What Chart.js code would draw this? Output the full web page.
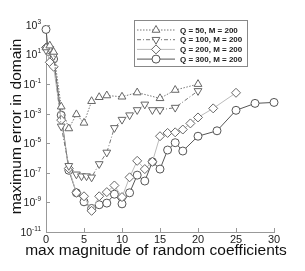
<!DOCTYPE html>
<html><head><meta charset="utf-8">
<script src="https://cdn.jsdelivr.net/npm/chart.js@4.4.1/dist/chart.umd.min.js"></script>
<style>html,body{margin:0;padding:0;background:#fff;}canvas{display:block;}</style>
</head><body>
<canvas id="c" width="305" height="271"></canvas>
<script>
// ---- data ----
const seriesNames = ['Q = 50, M = 200', 'Q = 100, M = 200', 'Q = 200, M = 200', 'Q = 300, M = 200'];

const q50X = [0, 0.5, 1, 2, 3, 4, 5, 6, 7, 8, 10, 12, 15, 17, 20];
const q50Y = [30, 40, 15, 3e-3, 1e-4, 9e-4, 2.4e-4, 7e-3, 1.3e-2, 1.7e-2, 1.4e-2, 2.7e-2, 1.1e-2, 4e-2, 0.1];

const q100X = [0, 0.5, 1, 2, 3, 4, 4.67, 5.33, 6, 7, 8, 9, 10, 11, 12, 13, 14, 15, 17, 20];
const q100Y = [20, 25, 8, 1.4e-4, 3e-7, 8e-8, 6e-8, 6e-8, 5e-8, 4e-7, 2.4e-6, 1.1e-4, 4e-4, 8e-4, 1.8e-3, 4.3e-3, 1.8e-3, 1.8e-3, 2.6e-3, 3.5e-2];

const q200X = [0, 0.5, 1, 2, 3, 4, 5, 6, 7, 8, 9, 10, 11, 12, 13, 14, 15, 16, 17, 18, 19, 20, 22, 25];
const q200Y = [30, 3, 1.5, 3.7e-4, 2e-7, 4.5e-9, 2.6e-9, 2.7e-10, 2.6e-9, 5e-9, 1.4e-8, 2.3e-9, 5e-8, 6.5e-7, 1.8e-7, 5.6e-7, 3e-5, 5e-5, 5.5e-5, 8.5e-5, 2.2e-4, 5.6e-4, 2.3e-3, 2.6e-2];

const q300X = [0, 0.25, 0.5, 1, 2, 3, 4, 5, 6, 7, 8, 9, 10, 11, 12, 13, 14, 15, 16, 17, 18, 20, 22.5, 25, 27.5, 30];
const q300Y = [500, 30, 20, 5, 8e-4, 1.5e-7, 4.5e-9, 1.1e-9, 3.9e-10, 7e-10, 9e-10, 3.6e-9, 8e-10, 4.5e-9, 7e-8, 2.8e-8, 5.6e-7, 1.8e-7, 3.5e-6, 1.1e-5, 3e-6, 3e-5, 7e-5, 1.7e-3, 5e-3, 5.8e-3];

const xTickValues = [0, 5, 10, 15, 20, 25, 30];
const yTickExponents = [3, 1, -1, -3, -5, -7, -9, -11];
const xTitle = 'max magnitude of random coefficients';
const yTitle = 'maximum error in domain';

// ---- chart ----
const FONT = '"Liberation Sans", Arial, Helvetica, sans-serif';
const pts = (xs, ys) => xs.map((x, i) => ({x: x, y: ys[i]}));

function ds(label, xs, ys, color, mcolor, dash, style, radius, rot) {
  return {
    label: label, data: pts(xs, ys), showLine: true,
    borderColor: color, borderWidth: 1, borderDash: dash,
    pointStyle: style, pointRadius: radius, pointRotation: rot,
    pointBorderColor: mcolor, pointBackgroundColor: '#fff', pointBorderWidth: 1,
    pointHoverRadius: radius, clip: false, tension: 0
  };
}

const datasets = [
  ds(seriesNames[0], q50X, q50Y, '#777', '#666', [1.5, 1.5], 'triangle', 4.5, 0),
  ds(seriesNames[1], q100X, q100Y, '#777', '#666', [4, 2, 1, 2], 'triangle', 4.5, 180),
  ds(seriesNames[2], q200X, q200Y, '#bbb', '#666', [], 'rectRot', 4.5, 0),
  ds(seriesNames[3], q300X, q300Y, '#555', '#555', [], 'circle', 4, 0)
];

const decorPlugin = {
  id: 'decor',
  afterDraw(chart) {
    const ctx = chart.ctx;
    const xs = chart.scales.x, ys = chart.scales.y;
    const ca = chart.chartArea;
    ctx.save();
    // inward ticks
    ctx.strokeStyle = '#999'; ctx.lineWidth = 1;
    ctx.beginPath();
    xTickValues.forEach(v => {
      const px = Math.round(xs.getPixelForValue(v)) + 0.5;
      ctx.moveTo(px, ca.bottom); ctx.lineTo(px, ca.bottom - 4);
    });
    yTickExponents.forEach(e => {
      const py = Math.round(ys.getPixelForValue(Math.pow(10, e))) + 0.5;
      ctx.moveTo(ca.left, py); ctx.lineTo(ca.left + 4, py);
    });
    ctx.stroke();
    // y tick labels with superscript exponents
    ctx.fillStyle = '#222';
    ctx.textBaseline = 'middle';
    yTickExponents.forEach(e => {
      const py = ys.getPixelForValue(Math.pow(10, e));
      const es = String(e);
      ctx.font = '6.5px ' + FONT;
      const ew = ctx.measureText(es).width;
      ctx.font = '10.5px ' + FONT;
      const bw = ctx.measureText('10').width;
      const right = ca.left - 5;
      ctx.textAlign = 'left';
      ctx.fillText('10', right - ew - bw, py + 1);
      ctx.font = '6.5px ' + FONT;
      ctx.fillText(es, right - ew, py - 3);
    });
    // axis titles
    ctx.fillStyle = '#111';
    ctx.font = '15.5px ' + FONT;
    ctx.textAlign = 'center'; ctx.textBaseline = 'middle';
    ctx.fillText(xTitle, 156, 251);
    ctx.save();
    ctx.translate(17, (ca.top + ca.bottom) / 2 - 2);
    ctx.rotate(-Math.PI / 2);
    ctx.fillText(yTitle, 0, 0);
    ctx.restore();
    // legend
    const bx = 134, by = 20, bwid = 113, bh = 46;
    ctx.fillStyle = '#fff';
    ctx.fillRect(bx, by, bwid, bh);
    ctx.strokeStyle = '#888'; ctx.lineWidth = 1;
    ctx.strokeRect(bx + 0.5, by + 0.5, bwid, bh);
    chart.data.datasets.forEach((d, i) => {
      const ly = 30 + i * 9.7;
      ctx.save();
      ctx.strokeStyle = d.borderColor; ctx.lineWidth = 1;
      ctx.setLineDash(d.borderDash);
      ctx.beginPath(); ctx.moveTo(137, ly); ctx.lineTo(175, ly); ctx.stroke();
      ctx.restore();
      ctx.save();
      ctx.strokeStyle = d.pointBorderColor; ctx.fillStyle = '#fff'; ctx.lineWidth = 1;
      Chart.helpers.drawPoint(ctx, {pointStyle: d.pointStyle, radius: d.pointRadius, rotation: d.pointRotation, borderWidth: 1}, 156, ly);
      ctx.restore();
      ctx.fillStyle = '#222';
      ctx.font = 'bold 8px ' + FONT;
      ctx.textAlign = 'left'; ctx.textBaseline = 'middle';
      ctx.fillText(d.label, 180, ly + 0.5);
    });
    ctx.restore();
  }
};

new Chart(document.getElementById('c'), {
  type: 'scatter',
  data: { datasets: datasets },
  options: {
    responsive: false, animation: false, devicePixelRatio: 1,
    layout: { padding: { left: 0, top: 25, right: 31, bottom: 0 } },
    plugins: { legend: { display: false }, tooltip: { enabled: false } },
    scales: {
      x: {
        type: 'linear', min: 0, max: 30,
        afterBuildTicks: s => { s.ticks = xTickValues.map(v => ({value: v})); },
        afterFit: s => { s.height = 39; },
        grid: { display: false, drawTicks: false },
        border: { display: true, color: '#999', width: 1 },
        ticks: { color: '#222', font: { family: FONT, size: 11 }, padding: 1, maxRotation: 0 },
        title: { display: false }
      },
      y: {
        type: 'logarithmic', min: 1e-11, max: 1e3,
        afterBuildTicks: s => { s.ticks = yTickExponents.map(e => ({value: Math.pow(10, e)})); },
        afterFit: s => { s.width = 46; },
        grid: { display: false, drawTicks: false },
        border: { display: true, color: '#999', width: 1 },
        ticks: { display: false },
        title: { display: false }
      }
    }
  },
  plugins: [decorPlugin]
});
</script>
</body></html>
